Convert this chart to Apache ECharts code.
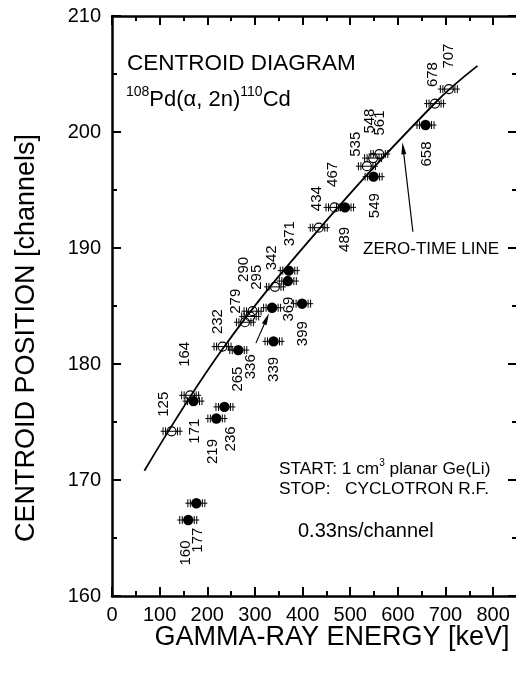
<!DOCTYPE html>
<html>
<head>
<meta charset="utf-8">
<script src="https://cdn.jsdelivr.net/npm/echarts@6/dist/echarts.min.js"></script>
<style>
  html, body { margin: 0; padding: 0; background: #fff; }
  #chart { width: 516px; height: 675px; }
</style>
</head>
<body>
<div id="chart"></div>
<script>
// open circles (prompt transitions, on the zero-time line)
const openEnergy = [125, 164, 232, 279, 290, 295, 342, 434, 467, 535, 548, 561, 678, 707]
const openCentroid = [174.2, 177.3, 181.5, 183.6, 184.1, 184.55, 186.65, 191.75, 193.5, 197.05, 197.75, 198.1, 202.45, 203.7]
// filled circles (delayed transitions)
const filledEnergy = [160, 171, 177, 219, 236, 265, 336, 339, 369, 371, 399, 489, 549, 658]
const filledCentroid = [166.55, 176.8, 168.0, 175.3, 176.3, 181.2, 184.85, 181.95, 187.15, 188.05, 185.2, 193.5, 196.15, 200.6]
// zero-time line
const lineEnergy = [68, 232, 434, 678, 767]
const lineCentroid = [170.8, 181.3, 191.6, 202.5, 205.7]
// arrows [from, to] in keV / channels
const arrows = [
  [[302, 181.8], [324.5, 183.9]],
  [[631.5, 191.4], [611, 198.6]]
]
const xTicks = { min: 0, max: 850, major: 100, minor: 50 }
const yTicks = { min: 160, max: 210, major: 10 }

// label placement for each energy label, px offset from the point
const openLabelOffset = {
  125: [-8, -27], 164: [-5, -41], 232: [-5, -25], 279: [-9, -21], 290: [-6, -47], 295: [4, -34],
  342: [-3, -29], 434: [-2, -29], 467: [-2, -33], 535: [-11, -22], 548: [-3, -37], 561: [1, -31],
  678: [-2, -29], 707: [0, -33]
}
const filledLabelOffset = {
  160: [-2, 33], 171: [1, 30], 177: [2, 37], 219: [-3, 33], 236: [6, 32], 265: [0, 29],
  336: [-21, 59], 339: [0, 28], 369: [1, 28], 371: [1, -37], 399: [1, 30], 489: [0, 32],
  549: [1, 29], 658: [1, 29]
}

const font = '"Liberation Sans", Arial, Helvetica, sans-serif'
const black = '#000'

function pointRenderer (filled, offsets) {
  return function (params, api) {
    const e = api.value(0)
    const p = api.coord([e, api.value(1)])
    const x = p[0]
    const y = p[1]
    const ls = { stroke: black, lineWidth: 1 }
    const children = [
      { type: 'line', shape: { x1: x - 11, y1: y, x2: x + 11, y2: y }, style: ls }
    ]
    ;[-8.5, -6, 6, 8.5].forEach(d => {
      children.push({ type: 'line', shape: { x1: x + d, y1: y - 4, x2: x + d, y2: y + 4 }, style: ls })
    })
    children.push({
      type: 'circle',
      shape: { cx: x, cy: y, r: filled ? 5.2 : 4.5 },
      style: filled ? { fill: black } : { fill: 'none', stroke: black, lineWidth: 1.2 }
    })
    const off = offsets[e] || [0, -30]
    children.push({
      type: 'text',
      x: x + off[0],
      y: y + off[1],
      rotation: Math.PI / 2,
      style: { text: String(e), fill: black, fontSize: 15, fontFamily: font, align: 'center', verticalAlign: 'middle' }
    })
    return { type: 'group', children }
  }
}

const chart = echarts.init(document.getElementById('chart'))

const axisLine = { show: true, onZero: false, lineStyle: { color: black, width: 2.5 } }
const tickStyle = { color: black, width: 2 }

function xAxis (position, interval, len, labels, line) {
  return {
    type: 'value',
    position,
    min: xTicks.min,
    max: xTicks.max,
    interval,
    axisLine: line ? axisLine : { show: false, onZero: false },
    axisTick: { inside: true, length: len, lineStyle: tickStyle },
    axisLabel: labels
      ? { show: true, fontSize: 20, color: black, fontFamily: font, margin: 9, showMaxLabel: false }
      : { show: false },
    splitLine: { show: false }
  }
}

function yAxis (position, labels) {
  return {
    type: 'value',
    position,
    min: yTicks.min,
    max: yTicks.max,
    interval: yTicks.major,
    axisLine,
    axisTick: { inside: true, length: 9, lineStyle: tickStyle },
    minorTick: { show: true, splitNumber: 2, length: 5, lineStyle: tickStyle },
    axisLabel: labels
      ? { show: true, fontSize: 20, color: black, fontFamily: font, margin: 11 }
      : { show: false },
    splitLine: { show: false }
  }
}

chart.setOption({
  animation: false,
  backgroundColor: '#fff',
  grid: { left: 112, top: 16, width: 405, height: 580, outerBoundsMode: 'none' },
  xAxis: [
    xAxis('bottom', xTicks.major, 9, true, true),
    xAxis('bottom', xTicks.minor, 5, false, false),
    xAxis('top', xTicks.major, 9, false, true),
    xAxis('top', xTicks.minor, 5, false, false)
  ],
  yAxis: [
    yAxis('left', true),
    yAxis('right', false)
  ],
  series: [
    {
      name: 'zero-time line',
      type: 'line',
      data: lineEnergy.map((e, i) => [e, lineCentroid[i]]),
      smooth: 0.4,
      showSymbol: false,
      lineStyle: { color: black, width: 1.8 },
      markLine: {
        silent: true,
        symbol: ['none', 'triangle'],
        symbolSize: [5, 12],
        label: { show: false },
        lineStyle: { color: black, width: 1.2, type: 'solid' },
        itemStyle: { color: black },
        data: arrows.map(a => [{ coord: a[0] }, { coord: a[1] }])
      }
    },
    {
      name: 'prompt',
      type: 'custom',
      renderItem: pointRenderer(false, openLabelOffset),
      data: openEnergy.map((e, i) => [e, openCentroid[i]])
    },
    {
      name: 'delayed',
      type: 'custom',
      renderItem: pointRenderer(true, filledLabelOffset),
      data: filledEnergy.map((e, i) => [e, filledCentroid[i]])
    }
  ],
  graphic: [
    {
      type: 'text', left: 127, top: 52,
      style: { text: 'CENTROID DIAGRAM', fontSize: 22.5, fontFamily: font, fill: black }
    },
    {
      type: 'text', left: 126, top: 85,
      style: {
        text: '{s|108}{b|Pd(α, 2n)}{s|110}{b|Cd}',
        fontFamily: font,
        fill: black,
        rich: {
          s: { fontSize: 14, fontFamily: font, verticalAlign: 'top' },
          b: { fontSize: 22, fontFamily: font, lineHeight: 29 }
        }
      }
    },
    {
      type: 'text', left: 279, top: 458,
      style: {
        text: '{b|START: 1 cm}{s|3}{b| planar Ge(Li)}',
        fontFamily: font,
        fill: black,
        rich: {
          s: { fontSize: 10, fontFamily: font, verticalAlign: 'top' },
          b: { fontSize: 17.3, fontFamily: font, lineHeight: 22 }
        }
      }
    },
    {
      type: 'text', left: 279, top: 481,
      style: { text: 'STOP:   CYCLOTRON R.F.', fontSize: 17.3, fontFamily: font, fill: black }
    },
    {
      type: 'text', left: 298, top: 521,
      style: { text: '0.33ns/channel', fontSize: 20, fontFamily: font, fill: black }
    },
    {
      type: 'text', left: 363, top: 241,
      style: { text: 'ZERO-TIME LINE', fontSize: 17, fontFamily: font, fill: black }
    },
    {
      type: 'text', x: 332, y: 638,
      style: { text: 'GAMMA-RAY ENERGY [keV]', fontSize: 27, fontFamily: font, fill: black, align: 'center', verticalAlign: 'middle' }
    },
    {
      type: 'text', x: 27, y: 338, rotation: Math.PI / 2,
      style: { text: 'CENTROID POSITION [channels]', fontSize: 27, fontFamily: font, fill: black, align: 'center', verticalAlign: 'middle' }
    }
  ]
})
</script>
</body>
</html>
